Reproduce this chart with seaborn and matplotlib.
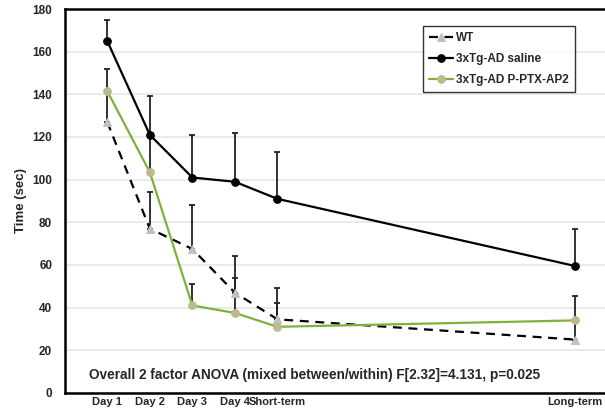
import matplotlib.pyplot as plt
import seaborn as sns
import pandas as pd
import numpy as np

# dados
dias = ["Day 1", "Day 2", "Day 3", "Day 4", "Short-term", "Long-term"]
x_pos = [0, 1, 2, 3, 4, 11]

wt = [127, 77, 67.5, 47, 34.5, 25]
wt_err = [14, 17, 20.5, 17, 14.5, 9]

saline = [165, 121, 101, 99, 91, 59.5]
saline_err = [10, 18, 20, 23, 22, 17.5]

ptx = [141.5, 103.5, 41, 37.5, 31, 34]
ptx_err = [10.5, 17, 10, 16.5, 11, 11.5]

grupos = ["WT", "3xTg-AD saline", "3xTg-AD P-PTX-AP2"]

df = pd.DataFrame({
    "x": x_pos * 3,
    "tempo": wt + saline + ptx,
    "grupo": [g for g in grupos for _ in x_pos],
})

sns.set_style("white")
plt.rcParams["font.family"] = ["Liberation Sans", "DejaVu Sans"]

fig = plt.figure(figsize=(6.05, 4.11), dpi=100)
ax = fig.add_axes([0.107, 0.044, 0.893, 0.934])

# barras de erro (so para cima)
for vals, errs in [(wt, wt_err), (saline, saline_err), (ptx, ptx_err)]:
    ax.errorbar(x_pos, vals, yerr=[np.zeros(len(errs)), errs], fmt="none",
                ecolor="#222222", elinewidth=1.3, capsize=2.5, capthick=1.3, zorder=2)

estilos = {
    "WT": dict(color="black", linestyle=(0, (4, 3)), marker="^", mfc="#c0c0c0", mec="#c0c0c0"),
    "3xTg-AD saline": dict(color="black", linestyle="-", marker="o", mfc="black", mec="black"),
    "3xTg-AD P-PTX-AP2": dict(color="#7db23a", linestyle="-", marker="o", mfc="#bcb98c", mec="#bcb98c"),
}

for g in grupos:
    d = df[df["grupo"] == g]
    e = estilos[g]
    sns.lineplot(data=d, x="x", y="tempo", ax=ax, color=e["color"], linestyle=e["linestyle"],
                 marker=e["marker"], markerfacecolor=e["mfc"], markeredgecolor=e["mec"],
                 markersize=5.5, linewidth=1.6, label=g, zorder=3)

ax.set_xlim(-1, 11.7)
ax.set_ylim(0, 180)
ax.set_yticks(range(0, 181, 20))
ax.set_xticks(x_pos)
ax.set_xticklabels(dias)
ax.yaxis.grid(True, color="#e6e6e6", linewidth=1.2)
ax.set_axisbelow(True)
ax.tick_params(axis="y", length=0, labelsize=8.5, pad=9)
ax.tick_params(axis="x", length=0, labelsize=8, pad=3)
for lab in ax.get_xticklabels() + ax.get_yticklabels():
    lab.set_fontweight("bold")
ax.set_xlabel("")
ax.set_ylabel("Time (sec)", fontsize=9.5, fontweight="bold", labelpad=4)

for s in ["left", "bottom", "top"]:
    ax.spines[s].set_color("black")
    ax.spines[s].set_linewidth(1.8)
ax.spines["right"].set_visible(False)

ax.text(-0.42, 8.5, "Overall 2 factor ANOVA (mixed between/within) F[2.32]=4.131, p=0.025",
        fontsize=9.8, fontweight="bold", va="center", ha="left")

leg = ax.legend(loc="upper right", bbox_to_anchor=(0.955, 0.97), frameon=True, fancybox=False,
                edgecolor="black", fontsize=8.5, handlelength=2.0, handletextpad=0.3,
                borderpad=0.5, labelspacing=0.75)
leg.get_frame().set_linewidth(1.0)
for t in leg.get_texts():
    t.set_fontweight("bold")

fig.savefig("out.png", dpi=100)
